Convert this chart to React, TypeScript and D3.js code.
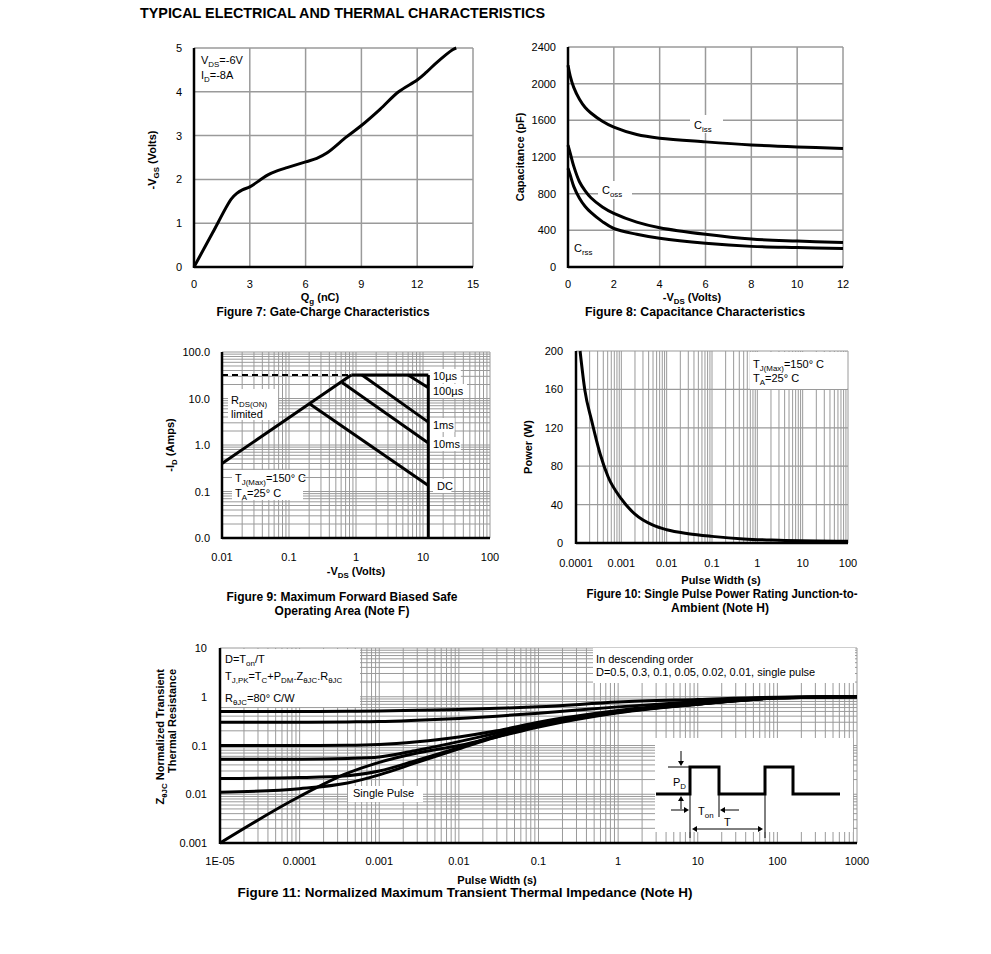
import React from 'react';
import * as d3 from 'd3';

const FONT = 'Arial, "Liberation Sans", Helvetica, sans-serif';
const GRID = '#9a9a9a';

// Figure 7: gate charge
const qgValues = [0, 1, 2, 2.3, 2.6, 3.0, 3.5, 4.0, 4.5, 5.0, 6.0, 6.6, 7.14, 8.2, 9.0, 10.0, 11.0, 12.0, 12.5, 13.0, 13.9, 14.1];
const vgsValues = [0, 0.78, 1.55, 1.68, 1.76, 1.83, 1.97, 2.11, 2.2, 2.27, 2.4, 2.48, 2.6, 2.97, 3.23, 3.6, 4.0, 4.27, 4.45, 4.65, 4.96, 5.0];
const qgTicks = [0, 3, 6, 9, 12, 15];
const vgsTicks = [0, 1, 2, 3, 4, 5];

// Figure 8: capacitance
const vdsCap = [0, 0.1, 0.25, 0.5, 0.75, 1, 1.5, 2, 3, 4, 6, 8, 10, 12];
const cissValues = [2200, 2080, 1960, 1830, 1740, 1680, 1590, 1525, 1445, 1405, 1365, 1332, 1310, 1294];
const cossValues = [1330, 1240, 1100, 930, 830, 755, 655, 585, 490, 429, 357, 305, 283, 267];
const crssValues = [1077, 1000, 880, 750, 660, 595, 495, 420, 357, 313, 259, 225, 212, 202];
const vdsTicks = [0, 2, 4, 6, 8, 10, 12];
const capTicks = [0, 400, 800, 1200, 1600, 2000, 2400];

// Figure 9: SOA
const soaTicks = [0.01, 0.1, 1, 10, 100];
const soaXLabels = ['0.01', '0.1', '1', '10', '100'];
const soaYLabels = ['0.0', '0.1', '1.0', '10.0', '100.0'];
const rdsLimit: [number, number][] = [[0.01, 0.4], [0.85, 32]];
const rdsDashed: [number, number][] = [[0.01, 32], [0.85, 32]];
const soaTop: [number, number][] = [[0.85, 32], [12, 32]];
const soaVmax: [number, number][] = [[12, 32], [12, 0.01]];
const soa10us: [number, number][] = [[6, 32], [12, 17]];
const soa100us: [number, number][] = [[1.23, 32], [12, 3.1]];
const soa1ms: [number, number][] = [[0.62, 22], [12, 1.1]];
const soaDC: [number, number][] = [[0.2, 7.8], [12, 0.135]];
const soaLabels = ['10µs', '100µs', '1ms', '10ms', 'DC'];
const soaLabelAt = [380, 395, 429, 448, 490];

// Figure 10: single pulse power
const pulseWidth = [0.000123, 0.000157, 0.00022, 0.00034, 0.00051, 0.001, 0.002, 0.005, 0.01, 0.03, 0.1, 0.5, 3, 100];
const pulsePower = [200, 159, 128, 93, 69, 46, 30, 18.5, 13.8, 9.7, 6.9, 4.2, 2.9, 1.8];
const pwTicks = [0.0001, 0.001, 0.01, 0.1, 1, 10, 100];
const pwLabels = ['0.0001', '0.001', '0.01', '0.1', '1', '10', '100'];
const powerTicks = [0, 40, 80, 120, 160, 200];

// Figure 11: transient thermal impedance
const zthX = [1e-5, 1e-4, 4e-4, 1e-3, 3e-3, 1e-2, 3e-2, 0.1, 1, 10, 100, 1000];
const zthD05 = [0.5, 0.5, 0.505, 0.51, 0.53, 0.55, 0.58, 0.62, 0.78, 0.88, 0.98, 1.0];
const zthD03 = [0.3, 0.3, 0.305, 0.31, 0.33, 0.36, 0.4, 0.46, 0.62, 0.8, 0.97, 1.0];
const zthD01 = [0.1, 0.1, 0.101, 0.105, 0.12, 0.15, 0.2, 0.3, 0.52, 0.75, 0.96, 1.0];
const zthD005 = [0.052, 0.052, 0.054, 0.058, 0.08, 0.12, 0.18, 0.27, 0.5, 0.72, 0.95, 1.0];
const zthD002 = [0.021, 0.022, 0.024, 0.03, 0.05, 0.09, 0.16, 0.26, 0.49, 0.71, 0.95, 1.0];
const zthD001 = [0.011, 0.013, 0.017, 0.025, 0.045, 0.085, 0.15, 0.25, 0.48, 0.7, 0.94, 1.0];
const zthSingle = [0.001, 0.009, 0.027, 0.045, 0.07, 0.1, 0.15, 0.24, 0.47, 0.7, 0.94, 1.0];
const zthSeries = [zthD05, zthD03, zthD01, zthD005, zthD002, zthD001, zthSingle];
const zxTicks = [1e-5, 1e-4, 1e-3, 1e-2, 0.1, 1, 10, 100, 1000];
const zxLabels = ['1E-05', '0.0001', '0.001', '0.01', '0.1', '1', '10', '100', '1000'];
const zyTicks = [0.001, 0.01, 0.1, 1, 10];
const zyLabels = ['0.001', '0.01', '0.1', '1', '10'];

type Seg = string | { sub: string };

const Rich = ({ x, y, parts, size = 11, anchor = 'start', weight = 'normal', transform }: any) => {
  let shifted = false;
  return (
    <text x={x} y={y} fontSize={size} textAnchor={anchor} fontWeight={weight} fontFamily={FONT} transform={transform}>
      {(parts as Seg[]).map((p, i) => {
        if (typeof p === 'string') {
          const dy = shifted ? -size * 0.3 : 0;
          shifted = false;
          return <tspan key={i} dy={dy}>{p}</tspan>;
        }
        const dy = shifted ? 0 : size * 0.3;
        shifted = true;
        return <tspan key={i} dy={dy} fontSize={size * 0.72}>{p.sub}</tspan>;
      })}
    </text>
  );
};

function logGrid(min: number, max: number) {
  const out: number[] = [];
  for (let e = Math.floor(Math.log10(min)); e <= Math.ceil(Math.log10(max)); e++) {
    for (let k = 1; k <= 9; k++) {
      const v = k * Math.pow(10, e);
      if (v >= min * 0.999 && v <= max * 1.001) out.push(v);
    }
  }
  return out;
}

const T = ({ x, y, children, anchor = 'start', weight = 'normal', size = 11, len }: any) => (
  <text x={x} y={y} textAnchor={anchor} fontWeight={weight} fontSize={size} fontFamily={FONT}
    textLength={len} lengthAdjust={len ? 'spacingAndGlyphs' : undefined}>{children}</text>
);

function Fig7() {
  const x = d3.scaleLinear().domain([0, 15]).range([194, 473]);
  const y = d3.scaleLinear().domain([0, 5]).range([267, 48]);
  const line = d3.line<number>().x((_, i) => x(qgValues[i])).y(d => y(d)).curve(d3.curveCatmullRom);
  return (
    <g>
      {qgTicks.slice(1).map(t => <line key={'gx' + t} x1={x(t)} x2={x(t)} y1={y(0)} y2={y(5)} stroke={GRID} strokeWidth={1.5} />)}
      {vgsTicks.slice(1).map(t => <line key={'gy' + t} x1={x(0)} x2={x(15)} y1={y(t)} y2={y(t)} stroke={GRID} strokeWidth={1.5} />)}
      <rect x={195} y={49} width={54} height={39} fill="white" />
      <Rich x={201} y={64} parts={['V', { sub: 'DS' }, '=-6V']} />
      <Rich x={201} y={79} parts={['I', { sub: 'D' }, '=-8A']} />
      <path d={line(vgsValues) || ''} fill="none" stroke="black" strokeWidth={3} />
      <line x1={x(0)} x2={x(0)} y1={y(0) + 1} y2={y(5)} stroke="black" strokeWidth={2.5} />
      <line x1={x(0)} x2={x(15)} y1={y(0)} y2={y(0)} stroke="black" strokeWidth={2.5} />
      {qgTicks.map(t => <T key={'lx' + t} x={x(t)} y={288} anchor="middle">{t}</T>)}
      {vgsTicks.map(t => <T key={'ly' + t} x={182} y={y(t) + 4} anchor="end">{t}</T>)}
      <Rich x={320} y={301} anchor="middle" weight="bold" parts={['Q', { sub: 'g' }, ' (nC)']} />
      <T x={323} y={316} anchor="middle" weight="bold" size={12} len={213}>Figure 7: Gate-Charge Characteristics</T>
      <Rich x={0} y={0} anchor="middle" weight="bold" transform="translate(156,160) rotate(-90)" parts={['-V', { sub: 'GS' }, ' (Volts)']} />
    </g>
  );
}

function Fig8() {
  const x = d3.scaleLinear().domain([0, 12]).range([568, 843]);
  const y = d3.scaleLinear().domain([0, 2400]).range([267, 47]);
  const line = d3.line<number>().x((_, i) => x(vdsCap[i])).y(d => y(d)).curve(d3.curveCatmullRom);
  return (
    <g>
      {vdsTicks.slice(1).map(t => <line key={'gx' + t} x1={x(t)} x2={x(t)} y1={y(0)} y2={y(2400)} stroke={GRID} strokeWidth={1.5} />)}
      {capTicks.slice(1).map(t => <line key={'gy' + t} x1={x(0)} x2={x(12)} y1={y(t)} y2={y(t)} stroke={GRID} strokeWidth={1.5} />)}
      {[cissValues, cossValues, crssValues].map((s, i) => <path key={i} d={line(s) || ''} fill="none" stroke="black" strokeWidth={3} />)}
      <rect x={690} y={115} width={33} height={18} fill="white" />
      <Rich x={694} y={129} parts={['C', { sub: 'iss' }]} />
      <rect x={598} y={181} width={34} height={18} fill="white" />
      <Rich x={602} y={194} parts={['C', { sub: 'oss' }]} />
      <Rich x={574} y={252} parts={['C', { sub: 'rss' }]} />
      <line x1={x(0)} x2={x(0)} y1={y(0) + 1} y2={y(2400)} stroke="black" strokeWidth={2.5} />
      <line x1={x(0)} x2={x(12)} y1={y(0)} y2={y(0)} stroke="black" strokeWidth={2.5} />
      {vdsTicks.map(t => <T key={'lx' + t} x={x(t)} y={288} anchor="middle">{t}</T>)}
      {capTicks.map(t => <T key={'ly' + t} x={556} y={y(t) + 4} anchor="end">{t}</T>)}
      <Rich x={692} y={301} anchor="middle" weight="bold" parts={['-V', { sub: 'DS' }, ' (Volts)']} />
      <T x={695} y={316} anchor="middle" weight="bold" size={12} len={220}>Figure 8: Capacitance Characteristics</T>
      <text transform="translate(524,157) rotate(-90)" textAnchor="middle" fontWeight="bold" fontSize={11} fontFamily={FONT}>Capacitance (pF)</text>
    </g>
  );
}

function Fig9() {
  const x = d3.scaleLog().domain([0.01, 100]).range([222, 490]);
  const y = d3.scaleLog().domain([0.01, 100]).range([538, 352]);
  const line = d3.line<[number, number]>().x(d => x(d[0])).y(d => y(d[1]));
  const solid = [rdsLimit, soaTop, soaVmax, soa10us, soa100us, soa1ms, soaDC];
  return (
    <g>
      {logGrid(0.01, 100).map(v => <line key={'gx' + v} x1={x(v)} x2={x(v)} y1={y(0.01)} y2={y(100)} stroke={GRID} strokeWidth={1} />)}
      {logGrid(0.01, 100).map(v => <line key={'gy' + v} x1={x(0.01)} x2={x(100)} y1={y(v)} y2={y(v)} stroke={GRID} strokeWidth={1} />)}
      <rect x={228} y={389} width={50} height={31} fill="white" />
      <Rich x={231} y={404} parts={['R', { sub: 'DS(ON)' }]} />
      <T x={231} y={418}>limited</T>
      <rect x={232} y={470} width={71} height={30} fill="white" />
      <Rich x={235} y={482} parts={['T', { sub: 'J(Max)' }, '=150°  C']} />
      <Rich x={235} y={497} parts={['T', { sub: 'A' }, '=25°  C']} />
      <path d={line(rdsDashed) || ''} fill="none" stroke="black" strokeWidth={2} strokeDasharray="6,4" />
      {solid.map((s, i) => <path key={i} d={line(s) || ''} fill="none" stroke="black" strokeWidth={3} />)}
      {soaLabels.map((l, i) => (
        <g key={l}>
          <rect x={l === 'DC' ? 433 : 430} y={soaLabelAt[i] - 11} width={l.length * 6.2 + 6} height={14} fill="white" />
          <T x={l === 'DC' ? 437 : 433} y={soaLabelAt[i]}>{l}</T>
        </g>
      ))}
      <line x1={x(0.01)} x2={x(0.01)} y1={y(0.01) + 1} y2={y(100)} stroke="black" strokeWidth={2.5} />
      <line x1={x(0.01)} x2={x(100)} y1={y(0.01)} y2={y(0.01)} stroke="black" strokeWidth={2.5} />
      {soaTicks.map((t, i) => <T key={'lx' + t} x={x(t)} y={561} anchor="middle">{soaXLabels[i]}</T>)}
      {soaTicks.map((t, i) => <T key={'ly' + t} x={210} y={y(t) + 4} anchor="end">{soaYLabels[i]}</T>)}
      <Rich x={356} y={575} anchor="middle" weight="bold" parts={['-V', { sub: 'DS' }, ' (Volts)']} />
      <T x={342} y={601} anchor="middle" weight="bold" size={12} len={231}>Figure 9: Maximum Forward Biased Safe</T>
      <T x={342} y={615} anchor="middle" weight="bold" size={12}>Operating Area (Note F)</T>
      <Rich x={0} y={0} anchor="middle" weight="bold" transform="translate(174,445) rotate(-90)" parts={['-I', { sub: 'D' }, ' (Amps)']} />
    </g>
  );
}

function Fig10() {
  const x = d3.scaleLog().domain([0.0001, 100]).range([576, 848]);
  const y = d3.scaleLinear().domain([0, 200]).range([543, 351]);
  const line = d3.line<number>().x((_, i) => x(pulseWidth[i])).y(d => y(d)).curve(d3.curveMonotoneX);
  return (
    <g>
      {logGrid(0.0001, 100).slice(1).map(v => <line key={'gx' + v} x1={x(v)} x2={x(v)} y1={y(0)} y2={y(200)} stroke={GRID} strokeWidth={1} />)}
      {powerTicks.slice(1).map(t => <line key={'gy' + t} x1={x(0.0001)} x2={x(100)} y1={y(t)} y2={y(t)} stroke={GRID} strokeWidth={1.2} />)}
      <rect x={750} y={352} width={97} height={37} fill="white" />
      <Rich x={753} y={368} parts={['T', { sub: 'J(Max)' }, '=150°  C']} />
      <Rich x={753} y={382} parts={['T', { sub: 'A' }, '=25°  C']} />
      <path d={line(pulsePower) || ''} fill="none" stroke="black" strokeWidth={3} />
      <line x1={x(0.0001)} x2={x(0.0001)} y1={y(0) + 1} y2={y(200)} stroke="black" strokeWidth={2.5} />
      <line x1={x(0.0001)} x2={x(100)} y1={y(0)} y2={y(0)} stroke="black" strokeWidth={2.5} />
      {pwTicks.map((t, i) => <T key={'lx' + t} x={x(t)} y={567} anchor="middle">{pwLabels[i]}</T>)}
      {powerTicks.map(t => <T key={'ly' + t} x={563} y={y(t) + 4} anchor="end">{t}</T>)}
      <T x={721} y={584} anchor="middle" weight="bold">Pulse Width (s)</T>
      <T x={722} y={598} anchor="middle" weight="bold" size={12} len={271}>Figure 10: Single Pulse Power Rating Junction-to-</T>
      <T x={720} y={612} anchor="middle" weight="bold" size={12}>Ambient (Note H)</T>
      <text transform="translate(532,447) rotate(-90)" textAnchor="middle" fontWeight="bold" fontSize={11} fontFamily={FONT}>Power (W)</text>
    </g>
  );
}

const Arrow = ({ x1, y1, x2, y2 }: any) => {
  const a = Math.atan2(y2 - y1, x2 - x1);
  const s = 5;
  const p1 = [x2 - s * Math.cos(a) + 3 * Math.sin(a), y2 - s * Math.sin(a) - 3 * Math.cos(a)];
  const p2 = [x2 - s * Math.cos(a) - 3 * Math.sin(a), y2 - s * Math.sin(a) + 3 * Math.cos(a)];
  return (
    <g>
      <line x1={x1} y1={y1} x2={x2 - 3 * Math.cos(a)} y2={y2 - 3 * Math.sin(a)} stroke="black" strokeWidth={1} />
      <polygon points={`${x2},${y2} ${p1[0]},${p1[1]} ${p2[0]},${p2[1]}`} fill="black" />
    </g>
  );
};

function Fig11() {
  const x = d3.scaleLog().domain([1e-5, 1000]).range([220, 857]);
  const y = d3.scaleLog().domain([0.001, 10]).range([843, 648]);
  const line = d3.line<number>().x((_, i) => x(zthX[i])).y(d => y(d)).curve(d3.curveMonotoneX);
  const wave = [[656, 794], [690, 794], [690, 767], [719, 767], [719, 794], [765, 794], [765, 767], [793, 767], [793, 794], [840, 794]];
  return (
    <g>
      {logGrid(1e-5, 1000).slice(1).map(v => <line key={'gx' + v} x1={x(v)} x2={x(v)} y1={y(0.001)} y2={y(10)} stroke={GRID} strokeWidth={1} />)}
      {logGrid(0.001, 10).slice(1).map(v => <line key={'gy' + v} x1={x(1e-5)} x2={x(1000)} y1={y(v)} y2={y(v)} stroke={GRID} strokeWidth={1} />)}
      <rect x={221} y={649} width={139} height={58} fill="white" />
      <Rich x={225} y={663} parts={['D=T', { sub: 'on' }, '/T']} />
      <Rich x={225} y={680} parts={['T', { sub: 'J,PK' }, '=T', { sub: 'C' }, '+P', { sub: 'DM' }, '.Z', { sub: 'θJC' }, '.R', { sub: 'θJC' }]} />
      <Rich x={225} y={702} parts={['R', { sub: 'θJC' }, '=80°  C/W']} />
      <rect x={593} y={648} width={262} height={35} fill="white" />
      <T x={596} y={663}>In descending order</T>
      <T x={596} y={676}>D=0.5, 0.3, 0.1, 0.05, 0.02, 0.01, single pulse</T>
      <rect x={348} y={786} width={75} height={16} fill="white" />
      <T x={353} y={797}>Single Pulse</T>
      {zthSeries.map((s, i) => <path key={i} d={line(s) || ''} fill="none" stroke="black" strokeWidth={3} />)}
      <g>
        <rect x={655} y={738} width={198} height={94} fill="white" />
        <polyline points={wave.map(p => p.join(',')).join(' ')} fill="none" stroke="black" strokeWidth={3} />
        <line x1={668} x2={690} y1={767} y2={767} stroke="black" strokeWidth={1} />
        <Arrow x1={681} y1={751} x2={681} y2={766} />
        <Arrow x1={681} y1={809} x2={681} y2={796} />
        <line x1={690} x2={690} y1={794} y2={838} stroke="black" strokeWidth={1} />
        <line x1={719} x2={719} y1={794} y2={817} stroke="black" strokeWidth={1} />
        <line x1={765} x2={765} y1={794} y2={838} stroke="black" strokeWidth={1} />
        <Arrow x1={671} y1={810} x2={689} y2={810} />
        <Arrow x1={739} y1={810} x2={720} y2={810} />
        <Arrow x1={727} y1={829} x2={692} y2={829} />
        <Arrow x1={727} y1={829} x2={763} y2={829} />
        <Rich x={673} y={786} parts={['P', { sub: 'D' }]} />
        <Rich x={698} y={815} parts={['T', { sub: 'on' }]} />
        <T x={724} y={826}>T</T>
      </g>
      <line x1={x(1e-5)} x2={x(1e-5)} y1={y(0.001) + 1} y2={y(10)} stroke="black" strokeWidth={2.5} />
      <line x1={x(1e-5)} x2={x(1000)} y1={y(0.001)} y2={y(0.001)} stroke="black" strokeWidth={2.5} />
      {zxTicks.map((t, i) => <T key={'lx' + t} x={x(t)} y={865} anchor="middle">{zxLabels[i]}</T>)}
      {zyTicks.map((t, i) => <T key={'ly' + t} x={207} y={y(t) + 4} anchor="end">{zyLabels[i]}</T>)}
      <T x={497} y={884} anchor="middle" weight="bold">Pulse Width (s)</T>
      <T x={465} y={897} anchor="middle" weight="bold" size={12.5} len={455}>Figure 11: Normalized Maximum Transient Thermal Impedance (Note H)</T>
      <Rich x={0} y={0} anchor="end" weight="bold" size={11} transform="translate(164,669) rotate(-90)" parts={['Z', { sub: 'θJC' }, ' Normalized Transient']} />
      <text transform="translate(176,669) rotate(-90)" textAnchor="end" fontWeight="bold" fontSize={11} fontFamily={FONT}>Thermal Resistance</text>
    </g>
  );
}

export default function App() {
  return (
    <div style={{ position: 'absolute', left: 0, top: 0, background: 'white' }}>
      <svg width={991} height={954} viewBox="0 0 991 954" style={{ display: 'block' }}>
        <rect width={991} height={954} fill="white" />
        <T x={140} y={18} weight="bold" size={14} len={405}>TYPICAL ELECTRICAL AND THERMAL CHARACTERISTICS</T>
        <Fig7 />
        <Fig8 />
        <Fig9 />
        <Fig10 />
        <Fig11 />
      </svg>
    </div>
  );
}
